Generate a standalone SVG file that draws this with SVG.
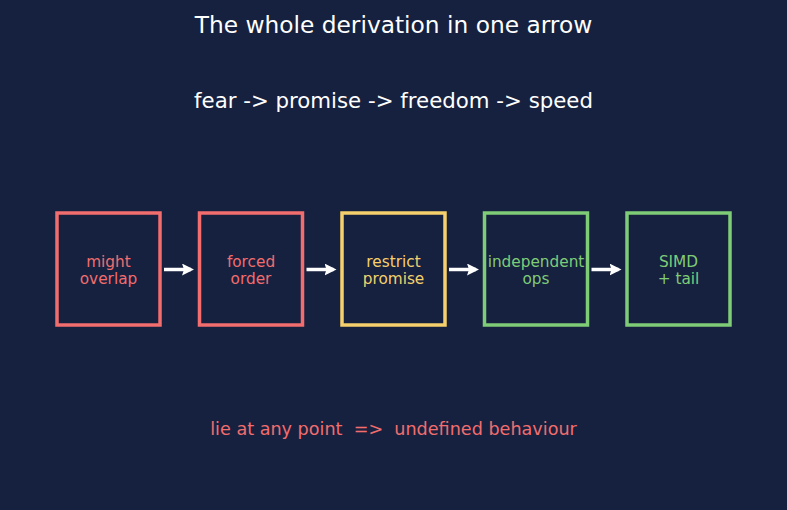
<svg xmlns="http://www.w3.org/2000/svg" width="787" height="510" viewBox="0 0 787 510">
<defs>
<style>
text{font-family:"DejaVu Sans",sans-serif;text-anchor:middle}
.box{fill:none;stroke-width:3.5}
.red{stroke:#f26d6d}.redt{fill:#f26d6d}
.yel{stroke:#f5d06b}.yelt{fill:#f5d06b}
.grn{stroke:#7fcc77}.grnt{fill:#7fcc77}
.lbl{font-size:15.3px}
.arr{stroke:#ffffff;stroke-width:3.5;fill:none}
</style>
<marker id="ah" markerWidth="12" markerHeight="12" refX="9" refY="6" orient="auto" markerUnits="userSpaceOnUse" viewBox="0 0 12 12">
<path d="M0,0 L12,6 L0,12 L2,6 Z" fill="#ffffff"/>
</marker>
</defs>
<rect width="787" height="510" fill="#162140"/>
<text x="393.5" y="33" font-size="23.3" fill="#ffffff">The whole derivation in one arrow</text>
<text x="393.5" y="108" font-size="21.3" fill="#ffffff">fear -&gt; promise -&gt; freedom -&gt; speed</text>
<g id="n1"><rect class="box red" x="57" y="213" width="103" height="112"/><text class="lbl redt" x="108.5" y="266.5">might</text><text class="lbl redt" x="108.5" y="283.5">overlap</text></g>
<g id="n2"><rect class="box red" x="199.5" y="213" width="103" height="112"/><text class="lbl redt" x="251" y="266.5">forced</text><text class="lbl redt" x="251" y="283.5">order</text></g>
<g id="n3"><rect class="box yel" x="342" y="213" width="103" height="112"/><text class="lbl yelt" x="393.5" y="266.5">restrict</text><text class="lbl yelt" x="393.5" y="283.5">promise</text></g>
<g id="n4"><rect class="box grn" x="484.5" y="213" width="103" height="112"/><text class="lbl grnt" x="536" y="266.5">independent</text><text class="lbl grnt" x="536" y="283.5">ops</text></g>
<g id="n5"><rect class="box grn" x="627" y="213" width="103" height="112"/><text class="lbl grnt" x="678.5" y="266.5">SIMD</text><text class="lbl grnt" x="678.5" y="283.5">+ tail</text></g>
<g id="connectors">
<line class="arr" x1="164" y1="269.5" x2="191" y2="269.5" marker-end="url(#ah)"/>
<line class="arr" x1="306.5" y1="269.5" x2="333.5" y2="269.5" marker-end="url(#ah)"/>
<line class="arr" x1="449" y1="269.5" x2="476" y2="269.5" marker-end="url(#ah)"/>
<line class="arr" x1="591.5" y1="269.5" x2="618.5" y2="269.5" marker-end="url(#ah)"/>
</g>
<text x="393.5" y="434.5" font-size="17.6" fill="#f26d6d" style="white-space:pre" xml:space="preserve">lie at any point  =&gt;  undefined behaviour</text>
</svg>
